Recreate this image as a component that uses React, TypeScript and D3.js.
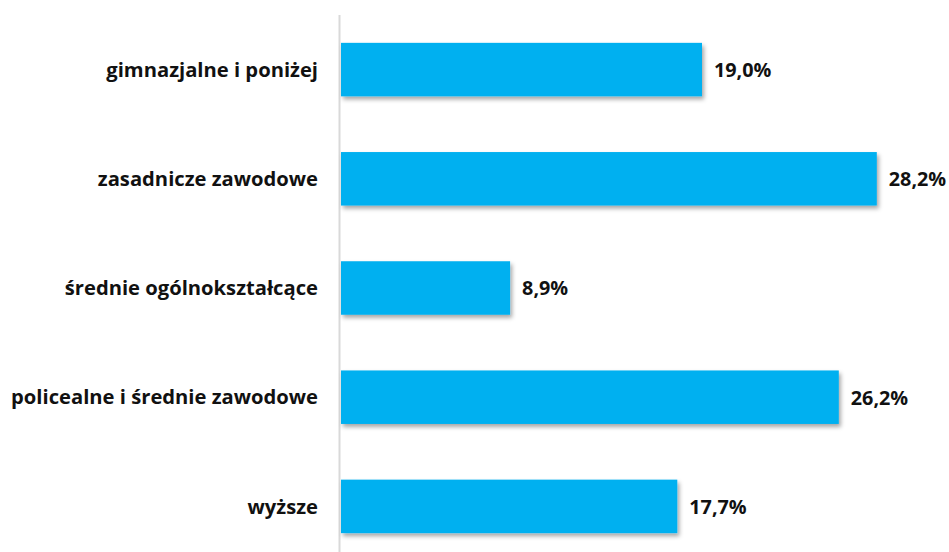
import React from "react";
import * as d3 from "d3";

const categories = [
  "gimnazjalne i poniżej",
  "zasadnicze zawodowe",
  "średnie ogólnokształcące",
  "policealne i średnie zawodowe",
  "wyższe",
];
const values = [19.0, 28.2, 8.9, 26.2, 17.7];

const W = 949;
const H = 552;

export default function App() {
  const x = d3.scaleLinear().domain([0, 10]).range([341, 531]);
  const y = d3
    .scaleBand<string>()
    .domain(categories)
    .range([15, 561])
    .paddingInner(0.51)
    .paddingOuter(0.255);
  const font = "'Open Sans', sans-serif";
  const fmt = (v: number) => v.toFixed(1).replace(".", ",") + "%";
  return (
    <svg
      width={W}
      height={H}
      style={{ position: "absolute", left: 0, top: 0, background: "#fff" }}
    >
      <defs>
        <filter id="sh" x="-5%" y="-20%" width="115%" height="160%">
          <feDropShadow dx="2" dy="3" stdDeviation="2" floodColor="#000" floodOpacity="0.35" />
        </filter>
      </defs>
      <line x1={339.5} x2={339.5} y1={15} y2={H} stroke="#d9d9d9" strokeWidth={2} />
      {categories.map((c, i) => {
        const yy = y(c)!;
        const bw = y.bandwidth();
        return (
          <g key={c}>
            <rect
              x={x(0)}
              y={yy}
              width={x(values[i]) - x(0)}
              height={bw}
              fill="#00B0F0"
              filter="url(#sh)"
            />
            <text
              x={318}
              y={yy + bw / 2}
              dy="0.36em"
              textAnchor="end"
              fontFamily={font}
              fontWeight="bold"
              fontSize={20.2}
              fill="#111"
            >
              {c}
            </text>
            <text
              x={x(values[i]) + 12}
              y={yy + bw / 2}
              dy="0.37em"
              fontFamily={font}
              fontWeight="bold"
              fontSize={19.8}
              fill="#111"
            >
              {fmt(values[i])}
            </text>
          </g>
        );
      })}
    </svg>
  );
}
